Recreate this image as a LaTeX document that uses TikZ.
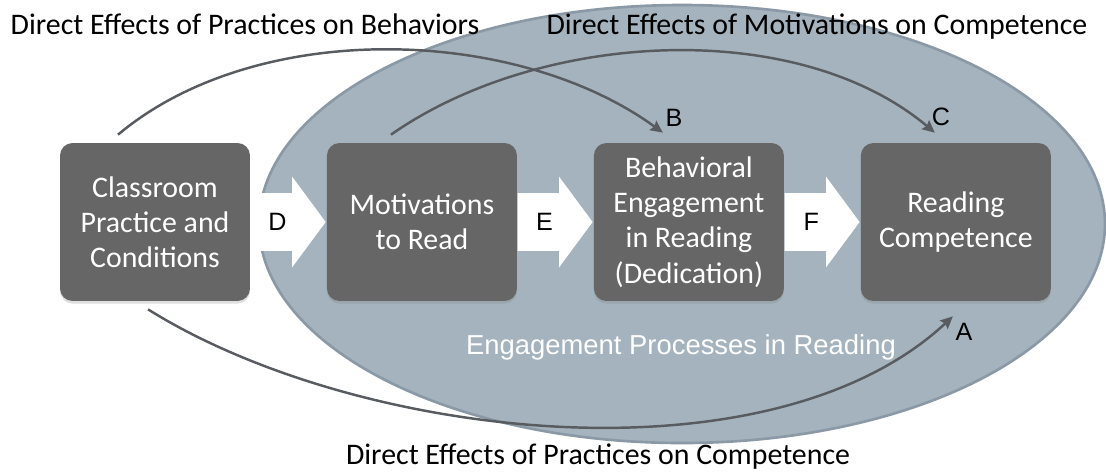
\documentclass[tikz,border=0pt]{standalone}
\usepackage{fontspec}
\setmainfont{Carlito}
\newfontfamily\arialfont{Liberation Sans}
\usetikzlibrary{arrows.meta,positioning,shapes.arrows,shadows}

\definecolor{boxgray}{RGB}{102,102,102}
\definecolor{ovalblue}{RGB}{164,179,189}
\definecolor{ovaledge}{RGB}{138,153,165}
\definecolor{linegray}{RGB}{88,92,96}

\begin{document}
\begin{tikzpicture}[x=0.02cm,y=-0.02cm,node distance=5.34cm,auto]
          \tikzstyle{stage}=[rectangle,rounded corners=0.25cm,fill=boxgray,text=white,minimum width=3.8cm,minimum height=3.16cm,align=center,font=\fontsize{17}{20}\selectfont,drop shadow={shadow xshift=0pt,shadow yshift=-1.5pt,opacity=0.25}]
          \tikzstyle{push}=[single arrow,fill=white,minimum height=1.5cm,minimum width=1.8cm,single arrow head extend=0.33cm,single arrow tip angle=107,inner xsep=0pt,inner ysep=11.1pt,text height=10.2pt,text depth=0pt,anchor=tail,font=\arialfont\fontsize{14.3}{16}\selectfont]
          \tikzstyle{effect}=[draw=linegray,line width=1.4pt,-{Stealth[length=7pt,width=6.5pt,inset=1pt]}]
          \tikzstyle{tag}=[font=\arialfont\fontsize{14.3}{16}\selectfont]
          \tikzstyle{title}=[anchor=base,font=\fontsize{17}{20}\selectfont]

          \useasboundingbox (0,0) rectangle (1106,471);
          \filldraw[fill=ovalblue,draw=ovaledge,line width=1.5pt] (682,224) ellipse [x radius=423, y radius=219];

          \node[stage]           (cls) at (155,222)   {Classroom\\Practice and\\Conditions};
          \node[stage]           (mot) [right of=cls] {Motivations\\to Read};
          \node[stage]           (beh) [right of=mot] {Behavioral\\Engagement\\in Reading\\(Dedication)};
          \node[stage]           (comp) [right of=beh] {Reading\\Competence};

          \node[push] (d) at (cls.east) {D};
          \node[push] (e) at (mot.east) {E};
          \node[push] (f) at (beh.east) {F};

          \node[tag] (lb) at (674,118) {B};
          \node[tag] (lc) at (941,117) {C};
          \node[tag] (la) at (964,332) {A};

          \node[title] (tpb) at (245,34) {Direct Effects of Practices on Behaviors};
          \node[title] (tmc) at (817,34) {Direct Effects of Motivations on Competence};
          \node[title] (tpc) at (598,464) {Direct Effects of Practices on Competence};
          \node[anchor=base,text=white,font=\arialfont\fontsize{15.6}{18}\selectfont] (eng) at (681,354) {Engagement Processes in Reading};

          \draw[effect] ([xshift=-0.74cm,yshift=0.16cm]cls.north) to[out=40,in=144,looseness=0.85] ([xshift=-0.52cm,yshift=0.2cm]beh.north);
          \draw[effect] ([xshift=-0.62cm,yshift=0.16cm]mot.north) to[out=35,in=140,looseness=0.85] ([xshift=-0.42cm,yshift=0.2cm]comp.north);
          \draw[effect] ([xshift=-0.14cm,yshift=-0.16cm]cls.south) to[out=-32,in=-137,looseness=0.79] ([xshift=-0.06cm,yshift=-0.3cm]comp.south);
\end{tikzpicture}
\end{document}
